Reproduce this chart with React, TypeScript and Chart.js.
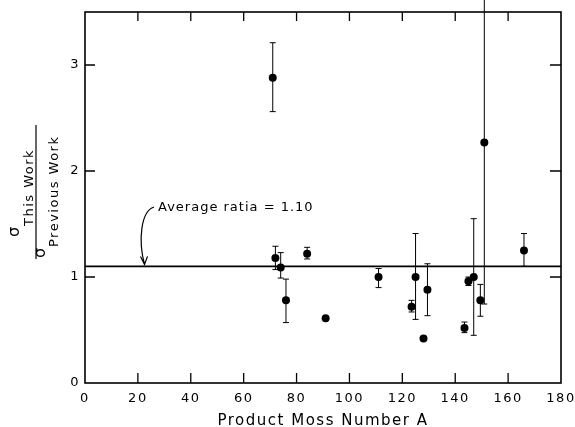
import React, { useEffect, useRef } from "react";
import { Chart, registerables } from "chart.js";

Chart.register(...registerables);

// ---- data ----
const massNumbers = [71, 72, 74, 76, 84, 91, 111, 123.5, 125, 128, 129.5, 143.5, 145, 147, 149.5, 151, 166];
const ratios = [2.88, 1.18, 1.09, 0.78, 1.22, 0.61, 1.0, 0.72, 1.0, 0.42, 0.88, 0.52, 0.96, 1.0, 0.78, 2.27, 1.25];
const errUpper: (number | null)[] = [3.21, 1.29, 1.23, 0.98, 1.28, null, 1.08, 0.78, 1.41, null, 1.125, 0.575, 1.0, 1.55, 0.93, 3.62, 1.41];
const errLower: (number | null)[] = [2.56, 1.07, 0.99, 0.57, 1.17, null, 0.9, 0.67, 0.6, null, 0.635, 0.475, 0.92, 0.45, 0.63, 0.745, 1.1];
const averageRatio = 1.1;
const xRange = [0, 180];
const yRange = [0, 3.5];
const xStep = 20;
const yStep = 1;
const xTitle = "Product Moss Number A";
const annotationText = "Average ratia = 1.10";
const numeratorSub = "This Work";
const denominatorSub = "Previous Work";

const FONT = "'DejaVu Sans', sans-serif";

const decorPlugin = {
  id: "decor",
  beforeDraw(chart: any) {
    chart.ctx.letterSpacing = "1.5px";
  },
  beforeDatasetsDraw(chart: any) {
    const { ctx, scales } = chart;
    const xs = scales.x;
    const ys = scales.y;
    ctx.save();
    ctx.strokeStyle = "#000";
    ctx.lineWidth = 1;
    const top = chart.chartArea.top;
    for (let i = 0; i < massNumbers.length; i++) {
      const hi = errUpper[i];
      const lo = errLower[i];
      if (hi == null || lo == null) continue;
      const px = xs.getPixelForValue(massNumbers[i]);
      const pHi = ys.getPixelForValue(hi);
      const pLo = ys.getPixelForValue(lo);
      ctx.beginPath();
      ctx.moveTo(px, pLo);
      ctx.lineTo(px, pHi);
      ctx.moveTo(px - 3, pLo);
      ctx.lineTo(px + 3, pLo);
      if (pHi >= top) {
        ctx.moveTo(px - 3, pHi);
        ctx.lineTo(px + 3, pHi);
      }
      ctx.stroke();
    }
    ctx.restore();
  },
  afterDraw(chart: any) {
    const { ctx, scales, chartArea } = chart;
    const xs = scales.x;
    const ys = scales.y;
    const { left, right, top, bottom } = chartArea;
    ctx.save();
    ctx.letterSpacing = "0px";
    ctx.strokeStyle = "#000";
    ctx.lineWidth = 1.6;
    ctx.strokeRect(left, top, right - left, bottom - top);
    ctx.lineWidth = 1.3;
    ctx.beginPath();
    xs.ticks.forEach((t: any) => {
      if (t.value <= xRange[0] || t.value >= xRange[1]) return;
      const px = xs.getPixelForValue(t.value);
      ctx.moveTo(px, bottom);
      ctx.lineTo(px, bottom - 10);
      ctx.moveTo(px, top);
      ctx.lineTo(px, top + 9);
    });
    ys.ticks.forEach((t: any) => {
      if (t.value <= yRange[0] || t.value >= yRange[1]) return;
      const py = ys.getPixelForValue(t.value);
      ctx.moveTo(left, py);
      ctx.lineTo(left + 10, py);
      ctx.moveTo(right, py);
      ctx.lineTo(right - 11, py);
    });
    ctx.stroke();

    // annotation
    ctx.fillStyle = "#000";
    ctx.font = `13px ${FONT}`;
    ctx.letterSpacing = "1px";
    ctx.textBaseline = "middle";
    ctx.textAlign = "left";
    ctx.fillText(annotationText, 158, 208);
    const yAvg = ys.getPixelForValue(averageRatio);
    const xArrow = xs.getPixelForValue(22.5);
    ctx.lineWidth = 1.2;
    ctx.beginPath();
    ctx.moveTo(154, 207);
    ctx.bezierCurveTo(141, 211, 138, 240, xArrow, yAvg - 2);
    ctx.moveTo(xArrow - 4, yAvg - 10);
    ctx.lineTo(xArrow, yAvg - 2);
    ctx.lineTo(xArrow + 3, yAvg - 10);
    ctx.stroke();

    // y-axis title (fraction), rotated
    ctx.letterSpacing = "0px";
    const drawRot = (text: string, x: number, y: number, font: string, spacing: string) => {
      ctx.save();
      ctx.translate(x, y);
      ctx.rotate(-Math.PI / 2);
      ctx.font = font;
      ctx.letterSpacing = spacing;
      ctx.textAlign = "left";
      ctx.textBaseline = "alphabetic";
      ctx.fillText(text, 0, 0);
      ctx.restore();
    };
    drawRot("σ", 19, 237, `16px ${FONT}`, "0px");
    drawRot(numeratorSub, 33, 226, `13px ${FONT}`, "1.5px");
    drawRot("σ", 45, 258, `16px ${FONT}`, "0px");
    drawRot(denominatorSub, 58, 247, `13px ${FONT}`, "1.5px");
    ctx.lineWidth = 1.2;
    ctx.beginPath();
    ctx.moveTo(36, 259);
    ctx.lineTo(36, 125);
    ctx.stroke();
    ctx.restore();
  },
};

export default function App() {
  const ref = useRef<HTMLCanvasElement | null>(null);
  useEffect(() => {
    if (!ref.current) return;
    const chart = new Chart(ref.current, {
      type: "scatter",
      data: {
        datasets: [
          {
            type: "line",
            label: "Average ratio",
            data: [
              { x: xRange[0], y: averageRatio },
              { x: xRange[1], y: averageRatio },
            ],
            borderColor: "#000",
            borderWidth: 1.6,
            pointRadius: 0,
            fill: false,
          } as any,
          {
            label: "Ratio",
            data: massNumbers.map((x, i) => ({ x, y: ratios[i] })),
            backgroundColor: "#000",
            borderColor: "#000",
            pointRadius: 4,
            pointHoverRadius: 4,
            borderWidth: 0,
          },
        ],
      },
      options: {
        responsive: false,
        animation: false,
        devicePixelRatio: 1,
        events: [],
        layout: { padding: { top: 12, right: 14, left: 0, bottom: 0 } },
        plugins: { legend: { display: false }, tooltip: { enabled: false } },
        scales: {
          x: {
            type: "linear",
            min: xRange[0],
            max: xRange[1],
            grid: { display: false, drawTicks: false },
            border: { display: false },
            ticks: {
              stepSize: xStep,
              color: "#000",
              font: { family: FONT, size: 13 },
              padding: 8,
              maxRotation: 0,
              autoSkip: false,
            },
            title: {
              display: true,
              text: xTitle,
              color: "#000",
              font: { family: FONT, size: 15 },
              padding: { top: 0, bottom: -3 },
            },
            afterFit: (s: any) => {
              s.height = 44;
              s.paddingLeft = 0;
              s.paddingRight = 0;
            },
          },
          y: {
            type: "linear",
            min: yRange[0],
            max: yRange[1],
            grid: { display: false, drawTicks: false },
            border: { display: false },
            ticks: {
              stepSize: yStep,
              includeBounds: false,
              color: "#000",
              font: { family: FONT, size: 13 },
              padding: 5,
            },
            afterFit: (s: any) => {
              s.width = 85;
              s.paddingTop = 0;
              s.paddingBottom = 0;
            },
          },
        },
      },
      plugins: [decorPlugin],
    });
    return () => chart.destroy();
  }, []);
  return (
    <div style={{ position: "absolute", left: 0, top: 0, width: 575, height: 427, background: "#fff" }}>
      <canvas ref={ref} width={575} height={427} style={{ display: "block" }} />
    </div>
  );
}
